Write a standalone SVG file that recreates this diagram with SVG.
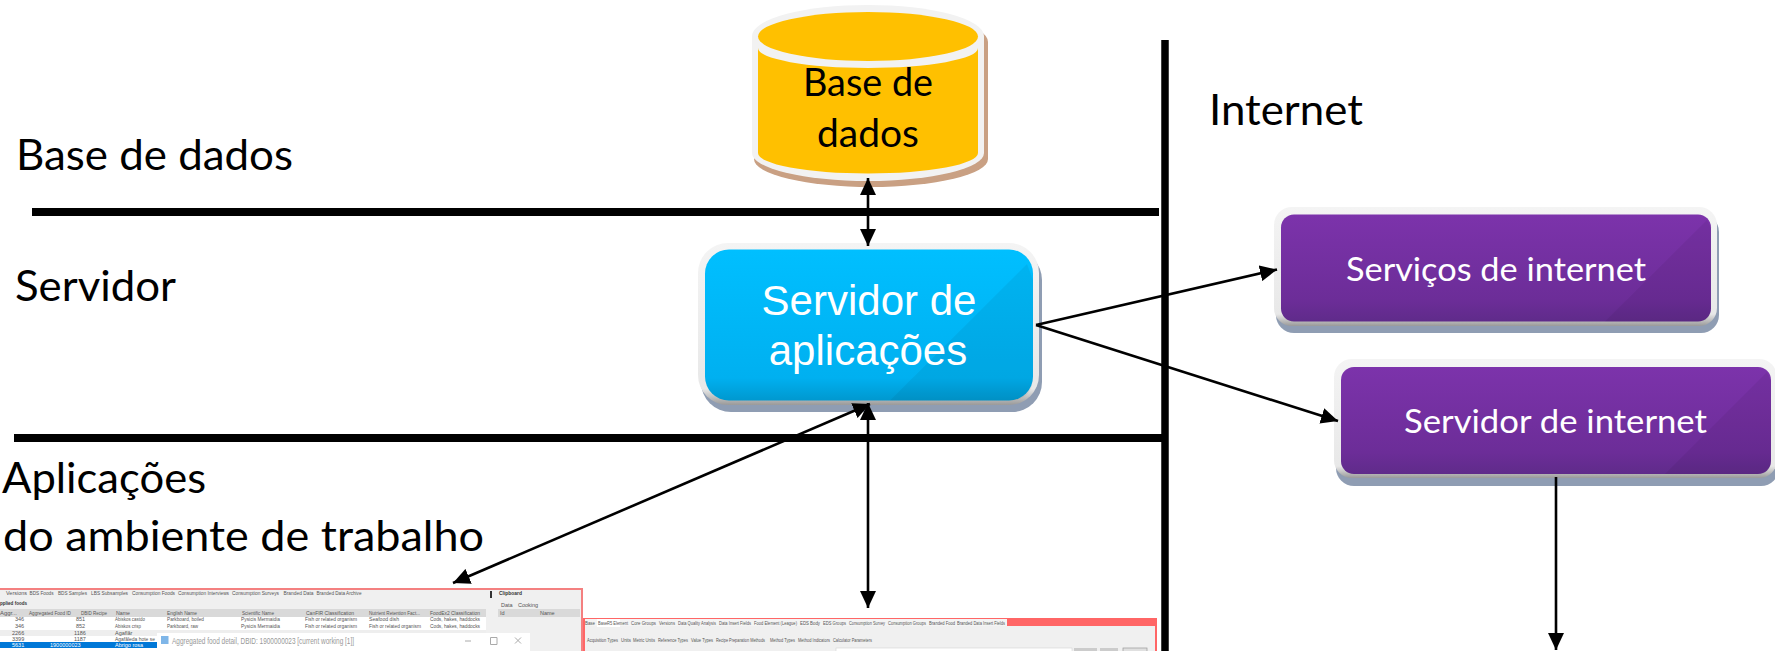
<svg xmlns="http://www.w3.org/2000/svg" width="1775" height="651" viewBox="0 0 1775 651">
<style>
.lb{font-family:Lato,"Open Sans","DejaVu Sans",sans-serif;font-size:43px;fill:#000}
.db{font-family:Lato,"Open Sans",sans-serif;font-size:38px;fill:#000}
.ar{font-family:"Liberation Sans",Arial,sans-serif;font-size:42px;fill:#fff}
.pt{font-family:Lato,"Open Sans",sans-serif;font-size:32px;fill:#fff}
.t{font-family:"Liberation Sans",Arial,sans-serif;font-size:5.500px;fill:#555}
.w{fill:#fff}
.s{font-size:4.500px}
.tb{font-family:"Liberation Sans",Arial,sans-serif;font-size:5.500px;font-weight:bold;fill:#333}
.h{stroke:#000;stroke-width:8;fill:none}
.c{stroke:#000;stroke-width:2.600;fill:none;marker-end:url(#a)}
.d{stroke:#000;stroke-width:2.600;fill:none;marker-end:url(#a);marker-start:url(#a)}
.sh{fill:#000;opacity:.05}
</style>
<defs>
<marker id="a" markerUnits="userSpaceOnUse" markerWidth="18" markerHeight="16" refX="17" refY="8" orient="auto-start-reverse"><path d="M0,0L17,8L0,16Z" fill="#000"/></marker>
<linearGradient id="fr" x1="0" y1="0" x2="0" y2="1"><stop offset="0" stop-color="#f4f4f4"/><stop offset=".9" stop-color="#e8e8e8"/><stop offset="1" stop-color="#9a9a9a"/></linearGradient>
<linearGradient id="bl" x1="0" y1="0" x2="0" y2="1"><stop offset="0" stop-color="#00bfff"/><stop offset=".85" stop-color="#00b0f0"/><stop offset="1" stop-color="#0098cf"/></linearGradient>
<linearGradient id="pu" x1="0" y1="0" x2="0" y2="1"><stop offset="0" stop-color="#7c33ab"/><stop offset=".8" stop-color="#6c2d98"/><stop offset="1" stop-color="#5f2b8a"/></linearGradient>
</defs>
<rect width="1775" height="651" fill="#fff"/>

<g id="shot-desktop">
<rect x="-2" y="589" width="584" height="64" fill="#f0f0f0" stroke="#f48080" stroke-width="2"/>
<g class="t">
<text x="6" y="595" textLength="21" lengthAdjust="spacingAndGlyphs">Versions</text><text x="29.500" y="595" textLength="24" lengthAdjust="spacingAndGlyphs">BDS Foods</text><text x="58" y="595" textLength="29" lengthAdjust="spacingAndGlyphs">BDS Samples</text><text x="91" y="595" textLength="37" lengthAdjust="spacingAndGlyphs">LBS Subsamples</text><text x="132" y="595" textLength="43" lengthAdjust="spacingAndGlyphs">Consumption Foods</text><text x="178" y="595" textLength="51" lengthAdjust="spacingAndGlyphs">Consumption Interviews</text><text x="232" y="595" textLength="47" lengthAdjust="spacingAndGlyphs">Consumption Surveys</text><text x="283.500" y="595" textLength="30" lengthAdjust="spacingAndGlyphs">Branded Data</text><text x="316.500" y="595" textLength="45" lengthAdjust="spacingAndGlyphs">Branded Data Archive</text>
</g>
<text class="tb" x="0" y="605" textLength="27" lengthAdjust="spacingAndGlyphs">pplied foods</text>
<rect x="0" y="609" width="486" height="8" fill="#d9d9d9"/>
<rect x="0" y="617" width="486" height="34" fill="#fff"/>
<rect x="0" y="630" width="486" height="6" fill="#eee"/>
<rect x="0" y="642" width="486" height="6" fill="#0078d7"/>
<g class="t">
<text x="0" y="615" textLength="17" lengthAdjust="spacingAndGlyphs">Aggr...</text><text x="29" y="615" textLength="42" lengthAdjust="spacingAndGlyphs">Aggregated Food ID</text><text x="81" y="615" textLength="26" lengthAdjust="spacingAndGlyphs">DBID Recipe</text><text x="116" y="615" textLength="14" lengthAdjust="spacingAndGlyphs">Name</text><text x="167" y="615" textLength="30" lengthAdjust="spacingAndGlyphs">English Name</text><text x="242" y="615" textLength="32" lengthAdjust="spacingAndGlyphs">Scientific Name</text><text x="306" y="615" textLength="48" lengthAdjust="spacingAndGlyphs">CanFIR Classification</text><text x="369" y="615" textLength="51" lengthAdjust="spacingAndGlyphs">Nutrient Retention Fact...</text><text x="430" y="615" textLength="50" lengthAdjust="spacingAndGlyphs">FoodEx2 Classification</text>
<text x="15" y="621">346</text><text x="76" y="621">851</text><text x="115" y="621" textLength="30" lengthAdjust="spacingAndGlyphs">Abiskos castdo</text><text x="167" y="621" textLength="37" lengthAdjust="spacingAndGlyphs">Parkboard, boiled</text><text x="241" y="621" textLength="39" lengthAdjust="spacingAndGlyphs">Pysicis Mermaidia</text><text x="305" y="621" textLength="52" lengthAdjust="spacingAndGlyphs">Fish or related organism</text><text x="369" y="621" textLength="30" lengthAdjust="spacingAndGlyphs">Seafood dish</text><text x="430" y="621" textLength="50" lengthAdjust="spacingAndGlyphs">Cods, hakes, haddocks</text>
<text x="15" y="628">346</text><text x="76" y="628">852</text><text x="115" y="628" textLength="26" lengthAdjust="spacingAndGlyphs">Abiskos crisp</text><text x="167" y="628" textLength="31" lengthAdjust="spacingAndGlyphs">Parkboard, raw</text><text x="241" y="628" textLength="39" lengthAdjust="spacingAndGlyphs">Pysicis Mermaidia</text><text x="305" y="628" textLength="52" lengthAdjust="spacingAndGlyphs">Fish or related organism</text><text x="369" y="628" textLength="52" lengthAdjust="spacingAndGlyphs">Fish or related organism</text><text x="430" y="628" textLength="50" lengthAdjust="spacingAndGlyphs">Cods, hakes, haddocks</text>
<text x="12" y="634.500">2266</text><text x="74" y="634.500">1186</text><text x="115" y="634.500">Agaflăr</text>
<text x="12" y="640.500">3399</text><text x="74" y="640.500">1187</text><text x="115" y="640.500" textLength="40" lengthAdjust="spacingAndGlyphs">Agafăleda hote se</text>
<text class="w" x="12" y="647">5631</text><text class="w" x="50" y="647">1900000023</text><text class="w" x="115" y="647">Abrigo rosa</text>
</g>
<rect x="488" y="590" width="9" height="61" fill="#f0f0f0"/>
<path d="M491,591V598" stroke="#333" stroke-width="2"/>
<text class="tb" x="499" y="595" textLength="23" lengthAdjust="spacingAndGlyphs">Clipboard</text><text class="t" x="501" y="607">Data</text><text class="t" x="518" y="607">Cooking</text>
<rect x="498" y="609" width="82" height="8" fill="#d9d9d9"/>
<text class="t" x="500" y="615">Id</text><text class="t" x="540" y="615">Name</text>
<rect x="157" y="633" width="373" height="20" fill="#fff"/>
<rect x="161" y="636" width="7.500" height="8" fill="#7fb6e8"/>
<text x="172" y="644" font-family="Liberation Sans,Arial,sans-serif" font-size="9" fill="#999" textLength="182" lengthAdjust="spacingAndGlyphs">Aggregated food detail, DBID: 1900000023 [current working [1]]</text>
<path d="M465,641H471M490.500,637.500H497V644.500H490.500ZM515,637.500L521,643.500M521,637.500L515,643.500" stroke="#aaa" stroke-width="1" fill="none"/>
</g>

<g id="shot-web">
<rect x="584" y="619" width="572" height="34" fill="#f0f0f0" stroke="#f66" stroke-width="2"/>
<rect x="584" y="618" width="573" height="8" fill="#f66"/>
<rect x="585" y="619" width="422" height="7" fill="#f4f4f4"/>
<rect x="597" y="619" width="23" height="8" fill="#fff"/>
<g class="t s">
<text class="s" x="585" y="624.500" textLength="10" lengthAdjust="spacingAndGlyphs">Base</text><text class="s" x="598" y="624.500" textLength="30" lengthAdjust="spacingAndGlyphs">BaseR5 Element</text><text class="s" x="631" y="624.500" textLength="25" lengthAdjust="spacingAndGlyphs">Core Groups</text><text class="s" x="659" y="624.500" textLength="16" lengthAdjust="spacingAndGlyphs">Versions</text><text class="s" x="678" y="624.500" textLength="38" lengthAdjust="spacingAndGlyphs">Data Quality Analysis</text><text class="s" x="719" y="624.500" textLength="32" lengthAdjust="spacingAndGlyphs">Data Insert Fields</text><text class="s" x="754" y="624.500" textLength="43" lengthAdjust="spacingAndGlyphs">Food Element (League)</text><text class="s" x="800" y="624.500" textLength="20" lengthAdjust="spacingAndGlyphs">EDS Body</text><text class="s" x="823" y="624.500" textLength="23" lengthAdjust="spacingAndGlyphs">EDS Groups</text><text class="s" x="849" y="624.500" textLength="36" lengthAdjust="spacingAndGlyphs">Consumption Survey</text><text class="s" x="888" y="624.500" textLength="38" lengthAdjust="spacingAndGlyphs">Consumption Groups</text><text class="s" x="929" y="624.500" textLength="26" lengthAdjust="spacingAndGlyphs">Branded Food</text><text class="s" x="957" y="624.500" textLength="48" lengthAdjust="spacingAndGlyphs">Branded Data Insert Fields</text>
<text class="s" x="587" y="642" textLength="31" lengthAdjust="spacingAndGlyphs">Acquisition Types</text><text class="s" x="621" y="642" textLength="10" lengthAdjust="spacingAndGlyphs">Units</text><text class="s" x="633" y="642" textLength="22" lengthAdjust="spacingAndGlyphs">Metric Units</text><text class="s" x="658" y="642" textLength="30" lengthAdjust="spacingAndGlyphs">Reference Types</text><text class="s" x="691" y="642" textLength="22" lengthAdjust="spacingAndGlyphs">Value Types</text><text class="s" x="716" y="642" textLength="49" lengthAdjust="spacingAndGlyphs">Recipe Preparation Methods</text><text class="s" x="770" y="642" textLength="25" lengthAdjust="spacingAndGlyphs">Method Types</text><text class="s" x="798" y="642" textLength="32" lengthAdjust="spacingAndGlyphs">Method Indicators</text><text class="s" x="833" y="642" textLength="39" lengthAdjust="spacingAndGlyphs">Calculator Parameters</text>
</g>
<rect x="836" y="648" width="236" height="5" fill="#fff" stroke="#ccc" stroke-width=".5"/>
<rect x="1074" y="648" width="23" height="5" fill="#ccc"/><rect x="1100" y="648" width="18" height="5" fill="#ccc"/><rect x="1123" y="648" width="24" height="5" fill="#e0e0e0" stroke="#999" stroke-width=".7"/>
</g>

<g id="dividers">
<path class="h" d="M32,212H1159"/>
<path class="h" d="M14,438H1162"/>
<path d="M1165,40V651" stroke="#000" stroke-width="7.500"/>
</g>

<g id="labels">
<text class="lb" x="16" y="170" textLength="277" lengthAdjust="spacingAndGlyphs">Base de dados</text>
<text class="lb" x="15" y="301" textLength="161" lengthAdjust="spacingAndGlyphs">Servidor</text>
<text class="lb" x="2" y="493" textLength="204" lengthAdjust="spacingAndGlyphs">Aplicações</text>
<text class="lb" x="3" y="550.500" textLength="481" lengthAdjust="spacingAndGlyphs">do ambiente de trabalho</text>
<text class="lb" x="1209" y="125" textLength="154" lengthAdjust="spacingAndGlyphs">Internet</text>
</g>

<g id="node-db">
<path d="M754,42A117 31 0 0 1 988,42V159A117 28 0 0 1 754,159Z" fill="#c9a083"/>
<path d="M752,36A116 31 0 0 1 984,36V153A116 28 0 0 1 752,153Z" fill="#f2f2f2"/>
<path d="M758,48A110 20 0 0 0 978,48V153A110 20.500 0 0 1 758,153Z" fill="#ffc000"/>
<ellipse cx="868" cy="36.500" rx="110" ry="24.500" fill="#ffc000"/>
<text class="db" x="803" y="96" textLength="130" lengthAdjust="spacingAndGlyphs">Base de</text>
<text class="db" x="817" y="147" textLength="102" lengthAdjust="spacingAndGlyphs">dados</text>
</g>

<g id="node-app-server">
<rect x="701" y="250" width="341" height="162" rx="30" fill="#8f9db3"/>
<rect x="698" y="243" width="341" height="162" rx="30" fill="url(#fr)"/>
<rect x="705" y="249.500" width="328" height="151" rx="24" fill="url(#bl)"/>
<path class="sh" d="M1027,264L890,400.500H1009Q1033,400.500 1033,376.500V280Z"/>
<text class="ar" x="869" y="315" text-anchor="middle">Servidor de</text>
<text class="ar" x="868" y="365" text-anchor="middle">aplicações</text>
</g>

<g id="node-web-services">
<rect x="1276" y="214" width="443" height="119" rx="18" fill="#8f9db3"/>
<rect x="1274" y="207" width="443" height="119" rx="18" fill="url(#fr)"/>
<rect x="1281" y="214.500" width="430" height="107" rx="13" fill="url(#pu)"/>
<path class="sh" d="M1707,220L1605,321.500H1698Q1711,321.500 1711,308V228Z"/>
<text class="pt" x="1346" y="281" textLength="300" lengthAdjust="spacingAndGlyphs">Serviços de internet</text>
</g>

<g id="node-web-server">
<rect x="1336" y="366" width="443" height="120" rx="18" fill="#8f9db3"/>
<rect x="1334" y="359" width="443" height="119" rx="18" fill="url(#fr)"/>
<rect x="1341" y="367" width="430" height="107" rx="13" fill="url(#pu)"/>
<path class="sh" d="M1767,372L1665,474H1758Q1771,474 1771,461V381Z"/>
<text class="pt" x="1404" y="433" textLength="303" lengthAdjust="spacingAndGlyphs">Servidor de internet</text>
</g>

<g id="connectors">
<path class="d" d="M868,178V246"/>
<path class="c" d="M1036,325L1277,269.500"/>
<path class="c" d="M1036,325L1338,421"/>
<path class="c" d="M1556,477V650"/>
<path class="d" d="M453,583L870,404"/>
<path class="d" d="M868,403V608"/>
</g>
</svg>
